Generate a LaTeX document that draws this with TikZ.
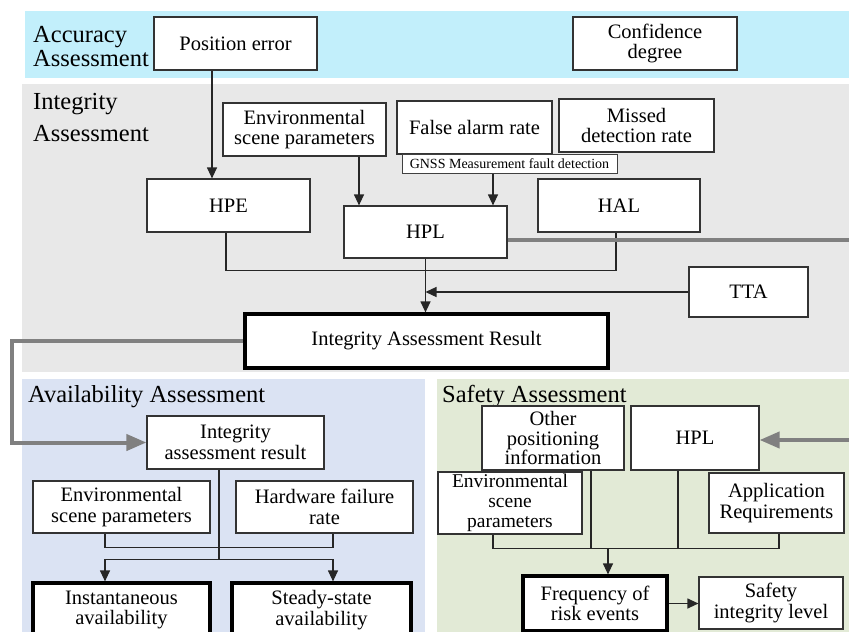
\documentclass[tikz,border=0pt]{standalone}
\usepackage{fontspec}
\setmainfont{Liberation Serif}
\usetikzlibrary{arrows.meta}
\definecolor{accband}{HTML}{C2EFFB}
\definecolor{intband}{HTML}{E8E8E8}
\definecolor{avaband}{HTML}{DBE3F3}
\definecolor{safband}{HTML}{E2EAD6}
\definecolor{gline}{HTML}{808080}
\begin{document}
\begin{tikzpicture}[x=1pt,y=-1pt,
  bx/.style={draw=black!80, line width=1.2pt, fill=white, align=center, inner sep=0pt,
    font=\fontsize{20.5}{20.5}\selectfont},
  thk/.style={bx, draw=black, line width=3.2pt},
  lbl/.style={anchor=base west, inner sep=0pt, font=\fontsize{24.5}{25}\selectfont},
  con/.style={line width=1.2pt, draw=black!85},
  arr/.style={con, -{Triangle[length=11pt,width=10pt]}},
  gl/.style={line width=4pt, draw=gline},
  garr/.style={gl, -{Triangle[length=20pt,width=16pt]}}
]
\useasboundingbox (0,0) rectangle (849,632);
\clip (0,0) rectangle (849,632);
\fill[white] (0,0) rectangle (849,632);
% bands
\fill[accband] (25,11) rectangle (849,78);
\fill[intband] (22,84) rectangle (849,372);
\fill[avaband] (22,379) rectangle (425,632);
\fill[safband] (437,379) rectangle (849,632);
% band labels
\node[lbl] (lacc1) at (33,42) {Accuracy};
\node[lbl] (lacc2) at (33,66) {Assessment};
\node[lbl] (lint1) at (33,109) {Integrity};
\node[lbl] (lint2) at (33,141) {Assessment};
\node[lbl] (lava) at (28,402) {Availability Assessment};
\node[lbl] (lsaf) at (442,402) {Safety Assessment};
% accuracy
\node[bx, minimum width=163pt, minimum height=53pt] (pos) at (235.5,43.5) {Position error};
\node[bx, minimum width=164pt, minimum height=53pt] (conf) at (655,43.5) {Confidence\\degree};
% integrity
\node[bx, minimum width=163pt, minimum height=53pt] (env1) at (304.5,129.5) {Environmental\\scene parameters};
\node[bx, minimum width=155pt, minimum height=53pt] (far) at (474.5,127.5) {False alarm rate};
\node[bx, draw=black!75, line width=1pt, minimum width=215pt, minimum height=19pt,
  font=\fontsize{14}{14}\selectfont] (gnss) at (509.5,163.5) {GNSS Measurement fault detection};
\node[bx, minimum width=155pt, minimum height=53pt] (mdr) at (636.5,125.5) {Missed\\detection rate};
\node[bx, minimum width=163pt, minimum height=53pt] (hpe) at (228.5,205.5) {HPE};
\node[bx, minimum width=163pt, minimum height=52pt] (hpl) at (425.5,232) {HPL};
\node[bx, minimum width=162pt, minimum height=53pt] (hal) at (619,205.5) {HAL};
\node[bx, minimum width=119pt, minimum height=50pt] (tta) at (748.5,292) {TTA};
\node[thk, minimum width=363pt, minimum height=54pt] (iar) at (426.5,341) {Integrity Assessment Result};
% availability
\node[bx, minimum width=177pt, minimum height=53pt] (air) at (235.5,442.5) {Integrity\\assessment result};
\node[bx, minimum width=177pt, minimum height=52pt] (env2) at (121.5,507) {Environmental\\scene parameters};
\node[bx, minimum width=177pt, minimum height=52pt] (hw) at (324.5,507) {Hardware failure\\rate};
\node[thk, minimum width=177pt, minimum height=54pt] (inst) at (121.5,610) {Instantaneous\\availability};
\node[thk, minimum width=179pt, minimum height=54pt] (steady) at (321.5,610) {Steady-state\\availability};
% safety
\node[bx, minimum width=142pt, minimum height=64pt, font=\fontsize{20.5}{19.5}\selectfont] (other) at (553,438) {Other\\positioning\\information};
\node[bx, minimum width=128pt, minimum height=64pt] (hpl2) at (695,438) {HPL};
\node[bx, minimum width=144pt, minimum height=62pt, font=\fontsize{19.5}{20}\selectfont] (env3) at (510,503) {Environmental\\scene\\parameters};
\node[bx, minimum width=135pt, minimum height=60pt] (app) at (776.5,503) {Application\\Requirements};
\node[thk, minimum width=144pt, minimum height=55pt] (freq) at (595,603.5) {Frequency of\\risk events};
\node[bx, minimum width=144pt, minimum height=52pt] (sil) at (771,603) {Safety\\integrity level};
% integrity connectors
\coordinate (a1) at ([xshift=-23.5pt]pos.south);
\draw[arr] (a1) -- (a1 |- hpe.north);
\coordinate (a2) at ([xshift=54.5pt]env1.south);
\draw[arr] (a2) -- (a2 |- hpl.north);
\coordinate (a3) at ([xshift=-16.5pt]gnss.south);
\draw[arr] (a3) -- (a3 |- hpl.north);
\coordinate (a4) at ([xshift=-2.5pt]hpe.south);
\coordinate (a5) at ([xshift=-3pt]hal.south);
\coordinate (j1) at ([yshift=-12pt]hpl.south);
\draw[con] (a4) |- (j1) -| (a5);
\draw[con] (hpl.south) -- (j1);
\draw[arr] (j1) -- (j1 |- iar.north);
\draw[arr] (tta.west) -- (tta.west -| j1);
% gray lines
\coordinate (g1) at ([yshift=-8pt]hpl.east);
\coordinate (g2) at (851,240);
\draw[gl] (g1) -- (g2);
\coordinate (g3) at (851,440);
\draw[garr] (g3) -- (g3 -| hpl2.east);
\coordinate (g4) at (12,341);
\coordinate (g5) at (12,442.5);
\draw[garr] (iar.west) -- (g4) -- (g5) -- (air.west);
% availability connectors
\coordinate (b1) at ([xshift=-16.5pt]air.south);
\coordinate (b2) at ([yshift=-90pt]b1);
\coordinate (b3) at ([xshift=-16.5pt]env2.south);
\coordinate (b4) at ([xshift=8.5pt]hw.south);
\draw[con] (b3) -- ++(0,14) -| (b4);
\draw[con] (b1) -- (b2);
\draw[arr] (b2) -| ([xshift=-16.5pt]inst.north);
\draw[arr] (b2) -| ([xshift=11.5pt]steady.north);
% safety connectors
\coordinate (c1) at ([xshift=-17pt]env3.south);
\coordinate (c2) at ([xshift=2.5pt]app.south);
\coordinate (c5) at ([yshift=-14pt]c1);
\draw[con] (c1) -- (c5) -| (c2);
\coordinate (c3) at ([xshift=38pt]other.south);
\draw[con] (c3) -- (c3 |- c5);
\coordinate (c4) at ([xshift=-17pt]hpl2.south);
\draw[con] (c4) -- (c4 |- c5);
\coordinate (c6) at ([xshift=13pt]freq.north);
\draw[arr] (c6 |- c5) -- (c6);
\draw[arr] (freq.east) -- (freq.east -| sil.west);
\end{tikzpicture}
\end{document}
